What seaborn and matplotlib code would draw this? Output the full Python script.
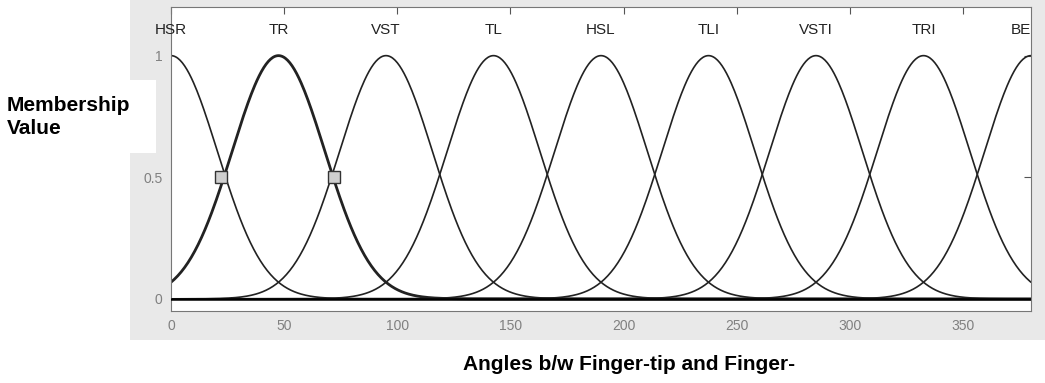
import numpy as np
import pandas as pd
import matplotlib
matplotlib.use("Agg")
import matplotlib.pyplot as plt
from matplotlib.patches import Rectangle
import seaborn as sns

# ---- data ----
labels = ["HSR", "TR", "VST", "TL", "HSL", "TLI", "VSTI", "TRI", "BENT"]
centers = [0, 47.5, 95, 142.5, 190, 237.5, 285, 332.5, 380]
widths = [20.5, 20.5, 20.5, 20.5, 20.5, 20.5, 20.5, 20.5, 20.5]
marker_x = [22, 72]
marker_y = [0.5, 0.5]
xticks = [0, 50, 100, 150, 200, 250, 300, 350]
yticks = [0, 0.5, 1]
ytick_labels = ["0", "0.5", "1"]

sns.set_theme(style="white")
plt.rcParams["font.family"] = ["Liberation Sans", "DejaVu Sans"]

fig = plt.figure(figsize=(10.45, 3.83), dpi=100)
W, H = 1045, 383

# gray panel and white label box (behind the axes)
fig.patches.append(Rectangle((130 / W, 1 - 340 / H), 1 - 130 / W, 340 / H,
                             transform=fig.transFigure, facecolor="#e9e9e9",
                             edgecolor="none", zorder=-3))
fig.patches.append(Rectangle((0, 1 - 153 / H), 156 / W, 73 / H,
                             transform=fig.transFigure, facecolor="white",
                             edgecolor="none", zorder=-2))

ax = fig.add_axes([171 / W, 1 - 311 / H, (1031 - 171) / W, (311 - 7) / H])
ax.set_zorder(1)
ax.set_facecolor("white")

x = np.linspace(0, 380, 761)
rows = []
for lab, c, s in zip(labels, centers, widths):
    mu = np.exp(-((x - c) ** 2) / (2 * s ** 2))
    rows.append(pd.DataFrame({"x": x, "mu": mu, "label": lab}))
df = pd.concat(rows, ignore_index=True)

for lab in labels:
    sub = df[df["label"] == lab]
    sns.lineplot(data=sub, x="x", y="mu", ax=ax, color="#222222",
                 lw=2.0 if lab == "TR" else 1.2, estimator=None, legend=False)

ax.plot([0, 380], [0, 0], color="black", lw=1.8, zorder=3)

ax.plot(marker_x, marker_y, ls="none", marker="s", ms=8,
        mfc="#cfcfcf", mec="#333333", mew=1.0, zorder=4)

for lab, c in zip(labels, centers):
    # the last label runs past the right edge of the plot and is cut there,
    # as in the reference; the first one spills left into the gray frame
    ax.text(c, 1.105, lab, ha="center", va="center", fontsize=11,
            color="#222222", clip_on=(lab == labels[-1]))

ax.set_xlim(0, 380)
ax.set_ylim(-0.05, 1.2)
ax.set_xticks(xticks)
ax.set_yticks(yticks)
ax.set_yticklabels(ytick_labels)
ax.set_xlabel("")
ax.set_ylabel("")
ax.tick_params(direction="in", length=5, width=0.8, color="#555555",
               top=True, right=True, labelsize=10, labelcolor="#808080",
               pad=6)
for sp in ax.spines.values():
    sp.set_color("#777777")
    sp.set_linewidth(0.8)
    sp.set_visible(True)

fig.text(7 / W, 1 - 117 / H, "Membership\nValue", ha="left", va="center",
         fontsize=15, fontweight="bold", linespacing=1.3, color="black")
fig.text(463 / W, 1 - 370 / H, "Angles b/w Finger-tip and Finger-",
         ha="left", va="baseline", fontsize=15, fontweight="bold",
         color="black")

fig.savefig("out.png", dpi=100)
